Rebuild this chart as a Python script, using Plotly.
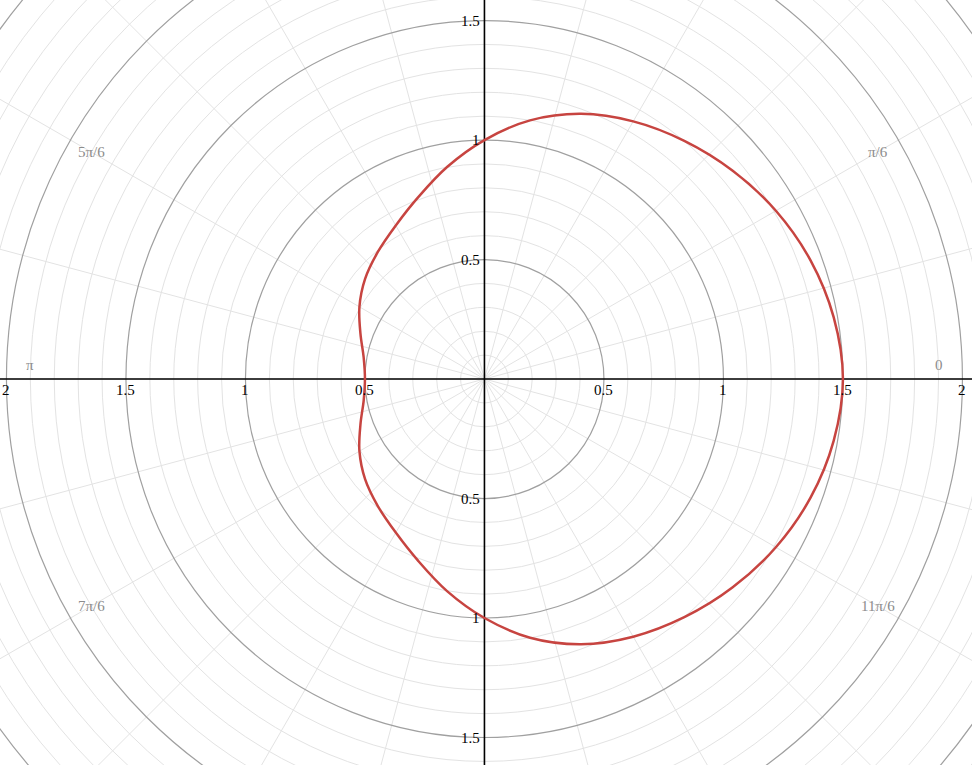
import numpy as np
import plotly.graph_objects as go

# Curve: polar samples (angle in degrees, radius); lower half mirrors the upper half
theta_deg_upper = [0, 10, 20, 30, 40, 50, 60, 70, 80, 90, 100, 110, 120, 130, 140, 150, 160, 170, 180]
r_upper = [1.500, 1.484, 1.452, 1.408, 1.356, 1.301, 1.245, 1.181, 1.099, 1.000,
           0.901, 0.810, 0.742, 0.694, 0.652, 0.604, 0.552, 0.513, 0.500]

# Grid
minor_radii = [round(0.1 * k, 1) for k in range(1, 27)]
major_radii = [0.5, 1.0, 1.5, 2.0, 2.5]
spoke_angles_deg = list(range(0, 360, 15))

# Tick labels
x_ticks = [-2, -1.5, -1, -0.5, 0.5, 1, 1.5, 2]
x_tick_text = ["2", "1.5", "1", "0.5", "0.5", "1", "1.5", "2"]
y_ticks = [1.5, 1, 0.5, -0.5, -1, -1.5]
y_tick_text = ["1.5", "1", "0.5", "0.5", "1", "1.5"]

# Angle labels
angle_label_deg = [0, 30, 150, 180, 210, 330]
angle_label_text = ["0", "π/6", "5π/6", "π", "7π/6", "11π/6"]
angle_label_r = 1.9

X_RANGE = [-2.027, 2.040]
Y_RANGE = [-1.615, 1.586]

theta_all = theta_deg_upper + [360 - t for t in theta_deg_upper[::-1][1:]]
r_all = r_upper + r_upper[::-1][1:]
th = np.radians(theta_all)
r = np.array(r_all)
cx = r * np.cos(th)
cy = r * np.sin(th)

fig = go.Figure()

shapes = []
for rr in minor_radii:
    if any(abs(rr - m) < 1e-9 for m in major_radii):
        continue
    shapes.append(dict(type="circle", xref="x", yref="y", x0=-rr, x1=rr, y0=-rr, y1=rr,
                       line=dict(color="#e3e3e3", width=1), layer="below"))
for a in spoke_angles_deg:
    ar = np.radians(a)
    shapes.append(dict(type="line", xref="x", yref="y", x0=0, y0=0,
                       x1=3 * np.cos(ar), y1=3 * np.sin(ar),
                       line=dict(color="#e3e3e3", width=1), layer="below"))
for rr in major_radii:
    shapes.append(dict(type="circle", xref="x", yref="y", x0=-rr, x1=rr, y0=-rr, y1=rr,
                       line=dict(color="#a0a0a0", width=1.2), layer="below"))
# axes
shapes.append(dict(type="line", xref="x", yref="y", x0=-3, x1=3, y0=0, y1=0,
                   line=dict(color="#000000", width=1.6), layer="below"))
shapes.append(dict(type="line", xref="x", yref="y", x0=0, x1=0, y0=-3, y1=3,
                   line=dict(color="#000000", width=1.6), layer="below"))

fig.add_trace(go.Scatter(x=cx, y=cy, mode="lines",
                         line=dict(color="#c74440", width=2.5, shape="spline", smoothing=1.0),
                         hoverinfo="skip", showlegend=False))

annotations = []
tick_font = dict(family="Liberation Serif, DejaVu Serif, serif", size=15, color="#000000")
for xv, txt in zip(x_ticks, x_tick_text):
    annotations.append(dict(x=xv, y=0, xref="x", yref="y", text=txt, showarrow=False,
                            xanchor="center", yanchor="top", yshift=-1, font=tick_font))
for yv, txt in zip(y_ticks, y_tick_text):
    annotations.append(dict(x=0, y=yv, xref="x", yref="y", text=txt, showarrow=False,
                            xanchor="right", yanchor="middle", xshift=-2, font=tick_font))
ang_font = dict(family="Liberation Serif, DejaVu Serif, serif", size=15, color="#8c8c8c")
for a, txt in zip(angle_label_deg, angle_label_text):
    ar = np.radians(a)
    ys = 14 if a in (0, 180) else 0
    annotations.append(dict(x=angle_label_r * np.cos(ar), y=angle_label_r * np.sin(ar), xref="x", yref="y",
                            text=txt, showarrow=False, xanchor="center", yanchor="middle",
                            yshift=ys, font=ang_font))

fig.update_layout(
    width=972, height=765,
    margin=dict(l=0, r=0, t=0, b=0),
    paper_bgcolor="white", plot_bgcolor="white",
    xaxis=dict(range=X_RANGE, visible=False, showgrid=False, zeroline=False, fixedrange=True),
    yaxis=dict(range=Y_RANGE, visible=False, showgrid=False, zeroline=False, fixedrange=True),
    shapes=shapes,
    annotations=annotations,
)

fig.write_html("out.html", config={"displayModeBar": False},
               post_script="document.body.style.margin='0';document.body.style.overflow='hidden';")
